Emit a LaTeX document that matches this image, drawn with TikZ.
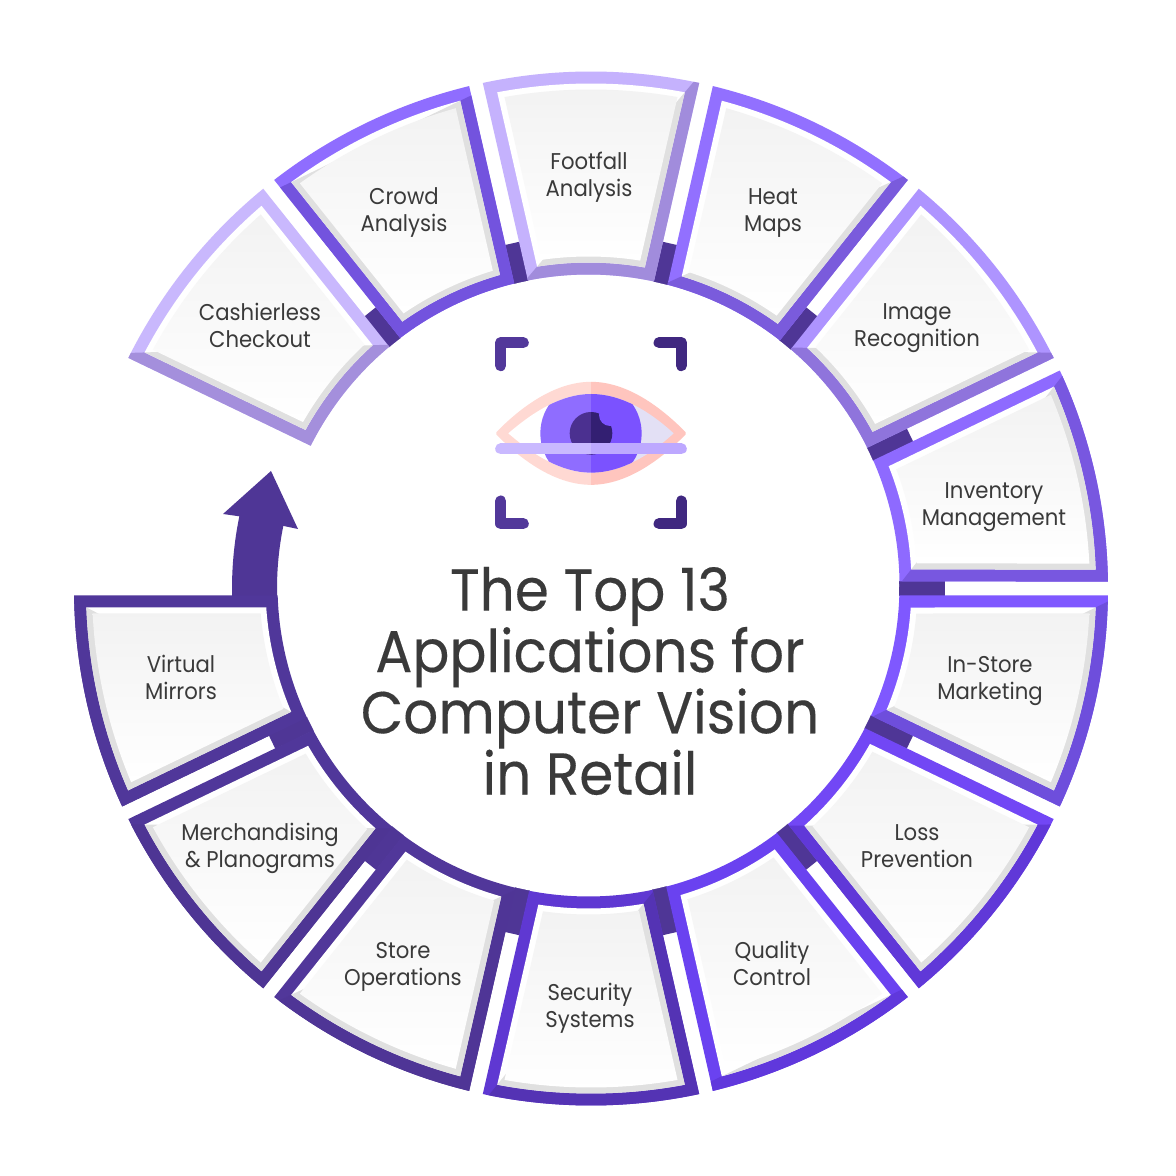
\documentclass[tikz,border=0pt]{standalone}
\usepackage{fontspec}
\setmainfont{Poppins}
\newfontfamily\labfont{Poppins}[FakeStretch=0.93]
\newfontfamily\titlefont{Poppins}[FakeStretch=0.93,FakeBold=0.25]
\definecolor{tabc}{HTML}{4F3696}
\definecolor{txt}{HTML}{3A3A3A}
\definecolor{aL}{HTML}{C9B8FD}\definecolor{aD}{HTML}{A48FDC}
\definecolor{bL}{HTML}{8F6DFF}\definecolor{bD}{HTML}{7353DE}
\definecolor{cL}{HTML}{C5B2FD}\definecolor{cD}{HTML}{A18CDC}
\definecolor{dL}{HTML}{9270FF}\definecolor{dD}{HTML}{7A5BDC}
\definecolor{eL}{HTML}{AE94FF}\definecolor{eD}{HTML}{8F74DC}
\definecolor{fL}{HTML}{8E6AFF}\definecolor{fD}{HTML}{7857E0}
\definecolor{gL}{HTML}{7F58FF}\definecolor{gD}{HTML}{6E4EDC}
\definecolor{hL}{HTML}{7247F5}\definecolor{hD}{HTML}{6038D8}
\definecolor{iL}{HTML}{6A42F0}\definecolor{iD}{HTML}{6038DC}
\definecolor{jL}{HTML}{5F38D2}\definecolor{jD}{HTML}{5433B4}
\definecolor{kL}{HTML}{51379A}\definecolor{kD}{HTML}{4F3596}
\definecolor{lL}{HTML}{50379A}\definecolor{lD}{HTML}{4E3594}
\definecolor{mL}{HTML}{50379A}\definecolor{mD}{HTML}{50379A}
\definecolor{eyePinkL}{HTML}{FFD9D3}\definecolor{eyePinkR}{HTML}{FFC5BE}
\definecolor{eyeWhiteR}{HTML}{E3E0F5}
\definecolor{irisL}{HTML}{8F6DFF}\definecolor{irisR}{HTML}{7B52FF}
\definecolor{pupilL}{HTML}{4B3090}\definecolor{pupilR}{HTML}{331F72}
\definecolor{barL}{HTML}{C9B9FF}\definecolor{barR}{HTML}{BDA8FF}
\definecolor{brkL}{HTML}{52389A}\definecolor{brkR}{HTML}{402880}
\tikzset{
  lab/.style={align=center,text=txt,inner sep=0pt,font=\labfont\fontsize{22.8}{27}\selectfont},
  ttl/.style={align=center,text=txt,inner sep=0pt,font=\titlefont\fontsize{59}{60}\selectfont},
  brk/.style={line width=11pt,line cap=round,line join=round},
}
\def\cx{-2.5}\def\cy{3}
% corner where an edge line (boundary angle #1, side #2, offset #3) meets the inner circle of radius #4
\newcommand\innercorner[4]{%
  \pgfmathsetmacro\tmpcu{\cx*cos(#1)+\cy*sin(#1)}%
  \pgfmathsetmacro\tmpcn{(#2)*(\cx*sin(#1)-\cy*cos(#1))}%
  \pgfmathsetmacro\tmpt{\tmpcu+100*sqrt((#4/100)^2-((#3-\tmpcn)/100)^2)}%
  \pgfmathsetmacro\tmpx{\tmpt*cos(#1)+(#3)*(#2)*sin(#1)}%
  \pgfmathsetmacro\tmpy{\tmpt*sin(#1)-(#3)*(#2)*cos(#1)}%
  \pgfmathsetmacro\tmpa{atan2(\tmpy-\cy,\tmpx-\cx)}%
}
\newcommand\setwedge[4]{%
  \pgfmathsetmacro\aA{#1+12.857-asin(#2/#3)}%
  \pgfmathsetmacro\aB{#1-12.857+asin(#2/#3)}%
  \pgfmathsetmacro\thA{#1+12.857}\pgfmathsetmacro\thB{#1-12.857}%
  \innercorner{\thA}{1}{#2}{#4}\edef\iAx{\tmpx}\edef\iAy{\tmpy}\edef\bA{\tmpa}%
  \innercorner{\thB}{-1}{#2}{#4}\edef\iBx{\tmpx}\edef\iBy{\tmpy}\edef\bB{\tmpa}%
  \pgfmathsetmacro\bA{\bA<\bB ? \bA+360 : \bA}%
  \def\Ro{#3}\def\Ri{#4}}
\newcommand\wedgepath{(\aA:\Ro) arc[start angle=\aA,end angle=\aB,radius=\Ro] -- (\iBx,\iBy) arc[start angle=\bB,end angle=\bA,radius=\Ri] -- cycle}
% light/dark split: line through two corners of the inset wedge
\newcommand\setsplit[2]{%
  \setwedge{\midang}{19}{505}{323}%
  \pgfmathsetmacro\oax{505*cos(\aA)}\pgfmathsetmacro\oay{505*sin(\aA)}%
  \pgfmathsetmacro\obx{505*cos(\aB)}\pgfmathsetmacro\oby{505*sin(\aB)}%
  \edef\iax{\iAx}\edef\iay{\iAy}\edef\ibx{\iBx}\edef\iby{\iBy}%
  \edef\pPx{\csname #1x\endcsname}\edef\pPy{\csname #1y\endcsname}%
  \edef\pQx{\csname #2x\endcsname}\edef\pQy{\csname #2y\endcsname}%
  \pgfmathsetmacro\splitang{atan2(\pQy-\pPy,\pQx-\pPx)}}
\newcommand\darkclip{\clip[shift={(\pPx,\pPy)},rotate=\splitang] (-1500,0) rectangle (1500,-1500);}
\newcommand\segment[5]{%
  \def\midang{#1}%
  \setsplit{#4}{#5}%
  \setwedge{#1}{7}{517}{311}%
  \fill[#2] \wedgepath;
  \begin{scope}
    \darkclip
    \fill[#3] \wedgepath;
  \end{scope}
  \setwedge{#1}{19}{505}{323}%
  \fill[white] \wedgepath;
  \begin{scope}
    \darkclip
    \fill[black!12] \wedgepath;
  \end{scope}
  \setwedge{#1}{25}{499}{329}%
  \shade[top color=black!5,middle color=black!1.5,bottom color=white] \wedgepath;
}
\newcommand\tabmark[1]{\fill[tabc,rotate=#1] (300,-7.5) rectangle (354,7.5);}
\newcommand\eyehalf[5]{%
  \filldraw[#1,line width=3pt,line join=round] (82,340) .. controls (160,260) and (260,190) .. (363,190) .. controls (470,190) and (570,265) .. (644,340)
     .. controls (570,415) and (470,490) .. (363,490) .. controls (260,490) and (160,420) .. (82,340) -- cycle;
  \begin{scope}
    \clip (115,340) .. controls (190,275) and (275,222) .. (363,222) .. controls (455,222) and (540,275) .. (611,340)
     .. controls (540,405) and (455,458) .. (363,458) .. controls (275,458) and (190,405) .. (115,340) -- cycle;
    \fill[#2] (0,100) rectangle (720,580);
    \fill[#3] (363,340) circle[radius=152];
  \end{scope}
  \fill[#4] (363,340) circle[radius=64];
  \fill[#3] (420,285) circle[radius=33];
  \draw[#5,line width=11pt,line cap=round] (92,387) -- (634,387);
}
\begin{document}
\begin{tikzpicture}[x=1pt,y=1pt]
\useasboundingbox (0,0) rectangle (1176,1176);
\fill[white] (0,0) rectangle (1176,1176);
\begin{scope}[shift={(591,587.5)}]
  \foreach \t in {0,...,11}{\pgfmathsetmacro\tang{128.571-\t*25.7143}\tabmark{\tang}}
  \fill[white] (\cx,\cy) circle[radius=310.5];
  \fill[tabc] (184:314) arc[start angle=184,end angle=168.5,radius=314]
     -- (-293,59.5) -- (-320,117.5) -- (-368,74.5) -- (168.4:359)
     arc[start angle=168.4,end angle=184,radius=359] -- cycle;
  \segment{141.429}{aL}{aD}{oa}{ib}
  \segment{115.714}{bL}{bD}{oa}{ob}
  \segment{90}{cL}{cD}{ia}{ob}
  \segment{64.286}{dL}{dD}{ia}{ob}
  \segment{38.571}{eL}{eD}{ia}{ob}
  \segment{12.857}{fL}{fD}{ib}{oa}
  \segment{-12.857}{gL}{gD}{ib}{oa}
  \segment{-38.571}{hL}{hD}{ib}{oa}
  \segment{-64.286}{iL}{iD}{ob}{oa}
  \segment{-90}{jL}{jD}{ob}{ia}
  \segment{-115.714}{kL}{kD}{ob}{ia}
  \segment{-141.429}{lL}{lD}{ob}{ia}
  \segment{-167.143}{mL}{mD}{ob}{ia}
\end{scope}
\begin{scope}[shift={(470,856)},x=0.33333pt,y=-0.33333pt]
  \begin{scope}
    \clip (0,0) rectangle (363,660);
    \eyehalf{eyePinkL}{white}{irisL}{pupilL}{barL}
  \end{scope}
  \begin{scope}
    \clip (363,0) rectangle (720,660);
    \eyehalf{eyePinkR}{eyeWhiteR}{irisR}{pupilR}{barR}
  \end{scope}
  \draw[brk,brkL] (92,137) -- (92,68) -- (160,68);
  \draw[brk,brkL] (92,543) -- (92,611) -- (160,611);
  \draw[brk,brkR] (567,68) -- (634,68) -- (634,137);
  \draw[brk,brkR] (567,611) -- (634,611) -- (634,543);
\end{scope}
\node[lab] (n1) at (260,851) {Cashierless\\Checkout};
\node[lab] (n2) at (404,963) {Crowd\\Analysis};
\node[lab] (n3) at (589,999) {Footfall\\Analysis};
\node[lab] (n4) at (773,963) {Heat\\Maps};
\node[lab] (n5) at (917,848) {Image\\Recognition};
\node[lab] (n6) at (994,669) {Inventory\\Management};
\node[lab] (n7) at (990,495) {In-Store\\Marketing};
\node[lab] (n8) at (917,330) {Loss\\Prevention};
\node[lab] (n9) at (772,213) {Quality\\Control};
\node[lab] (n10) at (590,168) {Security\\Systems};
\node[lab] (n11) at (403,209) {Store\\Operations};
\node[lab] (n12) at (260,328) {Merchandising\\\& Planograms};
\node[lab] (n13) at (181,499) {Virtual\\Mirrors};
\node[ttl] (title) at (590,495) {The Top 13\\Applications for\\Computer Vision\\in Retail};
\end{tikzpicture}
\end{document}
